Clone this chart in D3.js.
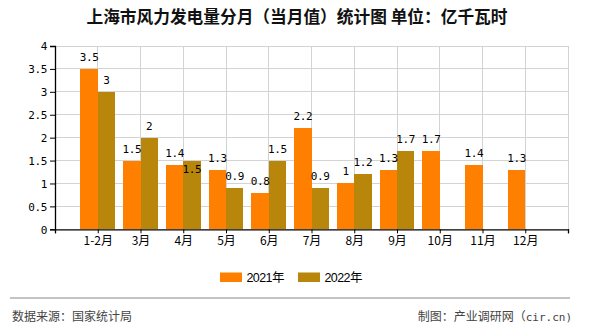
<!DOCTYPE html>
<html><head><meta charset="utf-8">
<script src="https://cdn.jsdelivr.net/npm/d3@7"></script>
<style>
body{margin:0;background:#fff;}
svg{display:block;}
.num{font-family:"DejaVu Sans Mono","Liberation Mono",monospace;font-size:11px;letter-spacing:-0.4px;fill:#000;}
</style></head>
<body><svg id="c" width="590" height="330"></svg>
<script>
const categories = ["1-2月","3月","4月","5月","6月","7月","8月","9月","10月","11月","12月"];
const values2021 = [3.5,1.5,1.4,1.3,0.8,2.2,1,1.3,1.7,1.4,1.3];
const values2022 = [3,2,1.5,0.9,1.5,0.9,1.2,1.7,null,null,null];
const seriesNames = ["2021年","2022年"];
const yTicks = [0,0.5,1,1.5,2,2.5,3,3.5,4];
const colors = ["#FF8000","#B8860B"];

(function(){
const svg = d3.select("#c");
const pL=55, pR=568, pT=46, pB=229.3;
const slots = ["_s"].concat(categories).concat(["_e"]);
const x = d3.scalePoint().domain(slots).range([pL,pR]);
const y = d3.scaleLinear().domain([0,4]).range([pB,pT]);
const bw = x.step()*0.405;

// title
svg.append("text").attr("x",297).attr("y",23).attr("text-anchor","middle")
  .style("font-family","'Noto Sans CJK SC',sans-serif").style("font-size","16.7px").style("font-weight","bold").attr("fill","#111")
  .text("上海市风力发电量分月（当月值）统计图 单位：亿千瓦时");

// grid
const g = svg.append("g");
g.selectAll(".hg").data(yTicks.slice(1)).enter().append("line")
  .attr("x1",pL).attr("x2",pR).attr("y1",d=>y(d)).attr("y2",d=>y(d))
  .attr("stroke","#d3d3d3").attr("stroke-width",1).attr("shape-rendering","crispEdges");
g.selectAll(".vg").data(slots.slice(1)).enter().append("line")
  .attr("x1",d=>x(d)).attr("x2",d=>x(d)).attr("y1",pT).attr("y2",pB)
  .attr("stroke","#d3d3d3").attr("stroke-width",1).attr("shape-rendering","crispEdges");

// bars
const series=[values2021,values2022];
series.forEach((vals,si)=>{
  svg.append("g").selectAll("rect").data(categories.map((c,i)=>({c,v:vals[i]})).filter(d=>d.v!=null))
    .enter().append("rect")
    .attr("x",d=>x(d.c)-(si===0?bw:0)).attr("width",bw)
    .attr("y",d=>y(d.v)).attr("height",d=>pB-y(d.v))
    .attr("fill",colors[si]).attr("shape-rendering","crispEdges");
});

// axes
const ya = d3.axisLeft(y).tickValues(yTicks).tickSize(5).tickFormat(d=>String(d));
const yg = svg.append("g").attr("transform",`translate(${pL},0)`).call(ya);
yg.select(".domain").attr("stroke","#000");
yg.selectAll("text").attr("class","num").attr("x",-8).attr("dy","0.35em");
const xa = d3.axisBottom(x).tickSize(4).tickFormat(d=>d.startsWith("_")?"":d);
const xg = svg.append("g").attr("transform",`translate(0,${pB})`).call(xa);
xg.select(".domain").attr("stroke","#000");
xg.selectAll("text").style("font-family","'Noto Sans CJK SC','DejaVu Sans',sans-serif").style("font-size","12px").attr("fill","#000").attr("y",7);
svg.selectAll(".domain").attr("stroke-width",1.3);

// value labels
const lbl = svg.append("g");
categories.forEach((c,i)=>{
  const a = values2021[i], b = values2022[i];
  let ta=null;
  if(a!=null){
    ta = lbl.append("text").attr("class","num").attr("text-anchor","middle")
      .attr("x",x(c)-bw/2).attr("y",y(a)-8).text(String(a));
  }
  if(b!=null){
    const tb = lbl.append("text").attr("class","num").attr("text-anchor","middle")
      .attr("x",x(c)+bw/2).attr("y",y(b)-8).text(String(b));
    if(ta){
      const wa=ta.node().getComputedTextLength(), wb=tb.node().getComputedTextLength();
      const overlapX = (wa+wb)/2 > bw;
      const overlapY = Math.abs((y(a)-8)-(y(b)-8))<12;
      if(overlapX && overlapY) tb.attr("y",y(b)+12.5);
    }
  }
});

// legend
const lg = svg.append("g");
seriesNames.forEach((n,i)=>{
  const lx = 220 + i*78;
  lg.append("rect").attr("x",lx).attr("y",272.5).attr("width",22).attr("height",9.5).attr("fill",colors[i]);
  lg.append("text").attr("x",lx+26.5).attr("y",281.5).style("font-family","'Liberation Sans','Noto Sans CJK SC',sans-serif").style("font-size","12.5px").style("letter-spacing","-0.6px").attr("fill","#000").text(n);
});

// footer
svg.append("line").attr("x1",10).attr("x2",570).attr("y1",298).attr("y2",298).attr("stroke","#888").attr("stroke-width",1.2);
svg.append("text").attr("x",12).attr("y",320.5).style("font-family","'Noto Sans CJK SC',sans-serif").style("font-size","12px").attr("fill","#444").text("数据来源：国家统计局");
const ft = svg.append("text").attr("x",572).attr("y",320.5).attr("text-anchor","end").style("font-family","'Noto Sans CJK SC',sans-serif").style("font-size","12px").attr("fill","#444");
ft.append("tspan").text("制图：产业调研网（");
ft.append("tspan").style("font-family","'DejaVu Sans Mono',monospace").style("font-size","11px").text("cir.cn)");
})();
</script></body></html>
